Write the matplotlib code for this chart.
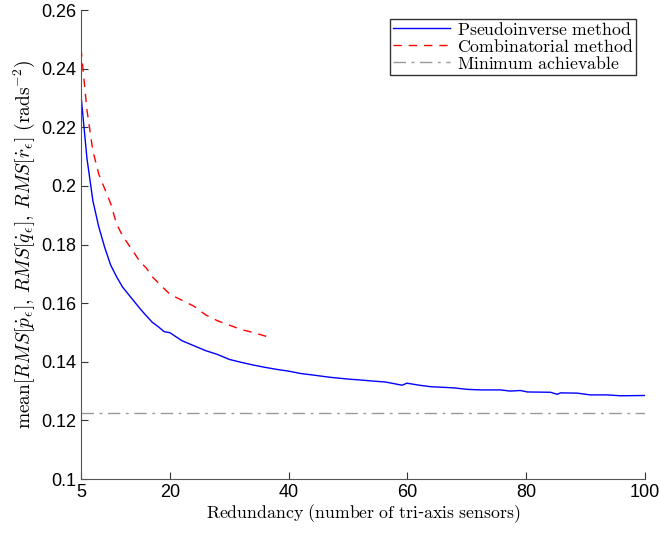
import numpy as np
import matplotlib
matplotlib.use('Agg')
import matplotlib.pyplot as plt

plt.rcParams['mathtext.fontset'] = 'cm'
plt.rcParams['font.family'] = 'Liberation Sans'

# pseudoinverse method
x_pinv = [5, 6, 7, 8, 9, 10, 11, 12, 13, 14, 15, 16, 17, 18, 19, 20, 22, 24, 26, 28,
          30, 32, 34, 36, 38, 40, 42, 44, 47, 50, 52, 54.3, 56.3, 59.1, 59.9, 62, 63.9,
          67.8, 70, 72.3, 75.7, 77.3, 79, 80.2, 84.1, 85.2, 85.8, 88.6, 90.8, 93.7, 95.9, 100]
y_pinv = [0.231, 0.2095, 0.195, 0.186, 0.179, 0.173, 0.169, 0.1655, 0.163, 0.1605,
          0.158, 0.1557, 0.1535, 0.152, 0.1503, 0.1499, 0.1472, 0.1455, 0.1438, 0.1425,
          0.1408, 0.1398, 0.1389, 0.1381, 0.1374, 0.1368, 0.1360, 0.1355, 0.1347, 0.1341,
          0.1338, 0.1334, 0.1331, 0.1320, 0.1327, 0.1320, 0.1315, 0.1311, 0.1306, 0.1304,
          0.1304, 0.1300, 0.1302, 0.1297, 0.1296, 0.1289, 0.1294, 0.1293, 0.1287, 0.1287,
          0.1284, 0.1285]

# combinatorial method
x_comb = [5, 6, 7, 8, 9, 10, 11, 12, 13, 14, 15, 16, 17, 18, 19, 20, 22, 24, 26, 28,
          30, 32, 34, 36, 37.2]
y_comb = [0.247, 0.226, 0.212, 0.204, 0.199, 0.194, 0.187, 0.183, 0.180, 0.177,
          0.174, 0.172, 0.169, 0.167, 0.165, 0.163, 0.161, 0.159, 0.156, 0.154,
          0.1525, 0.151, 0.150, 0.1488, 0.148]

x_min = [5, 100]
y_min = [0.1224, 0.1224]

fig = plt.figure(figsize=(6.6, 5.33), dpi=100)
ax = fig.add_axes([0.1227, 0.1013, 0.8545, 0.8797])

ax.plot(x_pinv, y_pinv, color='b', lw=1, label=r'$\mathrm{Pseudoinverse\ method}$')
ax.plot(x_comb, y_comb, color='r', lw=1, dashes=(6, 5), label=r'$\mathrm{Combinatorial\ method}$')
ax.plot(x_min, y_min, color='#999999', lw=1, dashes=(9, 4, 2, 4), label=r'$\mathrm{Minimum\ achievable}$')

ax.set_xlim(5, 100)
ax.set_ylim(0.1, 0.26)
ax.set_xticks([5, 20, 40, 60, 80, 100])
ax.set_yticks(np.arange(0.1, 0.261, 0.02))
ax.set_yticklabels(['0.1', '0.12', '0.14', '0.16', '0.18', '0.2', '0.22', '0.24', '0.26'])
ax.tick_params(direction='in', length=5, labelsize=13, color='#333333')
ax.spines['top'].set_visible(False)
ax.spines['right'].set_visible(False)
ax.spines['left'].set_color('#555555')
ax.spines['bottom'].set_color('#555555')

ax.set_xlabel(r'$\mathrm{Redundancy\ (number\ of\ tri}$-$\mathrm{axis\ sensors)}$', fontsize=12.8, labelpad=1)
ax.set_ylabel(r'$\mathrm{mean}[RMS[\dot{p}_\epsilon],\,RMS[\dot{q}_\epsilon],\,RMS[\dot{r}_\epsilon]\ (\mathrm{rads}^{-2})$',
              fontsize=14, labelpad=3)

leg = ax.legend(loc='upper right', fontsize=12.8, frameon=True, fancybox=False,
                borderaxespad=0.5, handlelength=3.2, handletextpad=0.4,
                labelspacing=0.0, borderpad=0.15)
leg.get_frame().set_edgecolor('k')
leg.get_frame().set_linewidth(1)

fig.savefig('out.png')
